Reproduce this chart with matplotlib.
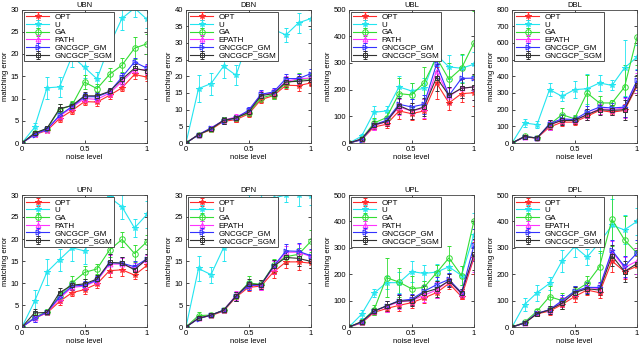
import matplotlib.pyplot as plt
import numpy as np

plt.rcParams['font.family'] = ['Liberation Sans', 'DejaVu Sans']

noise = [0, 0.1, 0.2, 0.3, 0.4, 0.5, 0.6, 0.7, 0.8, 0.9, 1.0]

# mean matching error per method (rows in legend order)
ubn_mean = [
    [0, 1.9, 2.8, 5.5, 7.3, 9.3, 9.2, 10.7, 12.4, 15.4, 14.8],
    [0, 3.5, 12.4, 12.6, 19.5, 17.0, 14.4, 22.0, 28.0, 30.3, 27.8],
    [0, 2.2, 3.2, 7.5, 8.5, 13.7, 12.2, 15.4, 17.5, 21.3, 22.3],
    [0, 2.0, 3.0, 6.0, 8.0, 10.0, 9.8, 11.2, 13.8, 16.5, 16.5],
    [0, 1.9, 3.1, 6.2, 8.2, 10.4, 10.4, 11.5, 14.8, 18.2, 16.8],
    [0, 2.2, 3.3, 7.7, 8.4, 10.6, 10.6, 11.6, 14.3, 16.8, 16.2],
]
ubn_err = [
    [0, .3, .4, .8, .8, .8, .8, .8, .8, 1.0, .8],
    [0, 1.0, 2.5, 2.3, 2.5, 2.5, 1.5, 2.5, 2.5, 2.0, 2.0],
    [0, .4, .4, 1.2, 1.0, 1.5, 1.0, 1.5, 1.5, 2.5, 2.3],
    [0, .3, .4, .8, .8, .8, .8, .8, 1.0, 1.2, 1.0],
    [0, .3, .4, .8, .8, .8, .8, .8, 1.0, 1.0, 1.0],
    [0, .3, .4, 1.0, .8, .8, .8, .8, 1.0, 1.0, 1.0],
]

dbn_mean = [
    [0, 2.5, 4.0, 6.5, 7.0, 8.7, 13.0, 14.2, 17.3, 17.2, 18.0],
    [0, 16.3, 17.8, 23.0, 20.3, 31.0, 33.0, 34.0, 32.4, 36.0, 37.3],
    [0, 2.5, 4.2, 6.8, 7.5, 9.0, 13.5, 14.5, 18.0, 19.0, 19.3],
    [0, 2.5, 4.5, 6.8, 7.8, 9.5, 14.5, 15.0, 18.5, 19.2, 19.5],
    [0, 2.5, 4.5, 6.7, 7.5, 9.8, 14.6, 15.3, 19.3, 19.3, 20.8],
    [0, 2.5, 4.2, 6.8, 7.5, 9.2, 14.2, 14.8, 18.3, 18.5, 18.8],
]
dbn_err = [
    [0, .3, .5, .8, .8, .8, 1.0, 1.0, 1.0, 1.5, 1.0],
    [0, 4.0, 3.3, 3.5, 3.0, 3.0, 3.0, 3.0, 2.0, 3.0, 3.0],
    [0, .3, .6, 1.0, 1.0, 1.0, 1.2, 1.2, 1.5, 2.0, 1.5],
    [0, .3, .6, 1.0, 1.0, 1.0, 1.2, 1.2, 1.5, 1.5, 1.5],
    [0, .3, .6, 1.0, 1.0, 1.0, 1.2, 1.2, 1.5, 1.5, 1.5],
    [0, .3, .6, 1.0, 1.0, 1.0, 1.2, 1.2, 1.5, 1.5, 1.5],
]

ubl_mean = [
    [0, 12, 60, 70, 120, 110, 120, 225, 150, 185, 188],
    [0, 25, 115, 120, 210, 195, 205, 330, 285, 280, 295],
    [0, 15, 75, 95, 185, 180, 225, 320, 238, 280, 375],
    [0, 15, 65, 80, 135, 120, 130, 270, 175, 205, 210],
    [0, 12, 68, 85, 145, 135, 145, 295, 178, 242, 243],
    [0, 15, 68, 80, 140, 120, 135, 245, 178, 205, 210],
]
ubl_err = [
    [0, 5, 10, 15, 30, 25, 30, 60, 25, 30, 50],
    [0, 10, 25, 20, 40, 30, 40, 40, 45, 50, 45],
    [0, 8, 20, 20, 60, 45, 60, 50, 60, 55, 120],
    [0, 5, 15, 15, 30, 30, 35, 50, 30, 35, 50],
    [0, 5, 15, 15, 30, 30, 35, 50, 30, 35, 50],
    [0, 5, 15, 15, 30, 30, 35, 50, 30, 35, 50],
]

dbl_mean = [
    [0, 35, 30, 95, 125, 125, 160, 195, 185, 195, 340],
    [0, 120, 110, 320, 280, 320, 325, 360, 345, 450, 515],
    [0, 40, 30, 110, 170, 145, 300, 240, 240, 335, 635],
    [0, 38, 30, 105, 140, 135, 170, 205, 200, 210, 360],
    [0, 38, 30, 115, 145, 140, 185, 215, 210, 215, 375],
    [0, 38, 30, 110, 135, 135, 170, 200, 195, 200, 350],
]
dbl_err = [
    [0, 8, 8, 20, 25, 20, 25, 20, 20, 40, 50],
    [0, 25, 20, 40, 30, 50, 90, 50, 30, 170, 70],
    [0, 8, 8, 30, 40, 20, 110, 40, 20, 130, 170],
    [0, 8, 8, 25, 30, 20, 35, 30, 30, 60, 60],
    [0, 8, 8, 25, 30, 20, 35, 30, 30, 60, 60],
    [0, 8, 8, 25, 30, 20, 35, 30, 30, 60, 60],
]

upn_mean = [
    [0, 2.0, 3.2, 5.8, 7.8, 8.5, 9.8, 12.8, 13.0, 11.8, 14.0],
    [0, 5.8, 12.5, 15.3, 18.0, 17.3, 22.0, 29.5, 27.3, 22.5, 25.6],
    [0, 2.2, 3.5, 7.0, 10.0, 12.4, 13.2, 17.5, 19.9, 16.7, 19.4],
    [0, 2.0, 3.3, 6.5, 9.0, 9.3, 10.5, 14.3, 14.3, 13.3, 15.2],
    [0, 2.0, 3.4, 6.8, 9.3, 9.5, 10.7, 14.6, 14.5, 13.7, 15.5],
    [0, 3.2, 3.3, 7.8, 9.5, 9.8, 10.9, 14.7, 14.5, 13.0, 15.5],
]
upn_err = [
    [0, .4, .4, .8, .8, 1.0, 1.0, 1.4, 1.4, 1.0, 1.0],
    [0, 2.5, 3.0, 2.5, 3.0, 3.0, 3.0, 3.0, 2.7, 2.0, 3.0],
    [0, .5, .5, 1.0, 1.5, 1.5, 1.2, 1.5, 1.8, 2.0, 1.6],
    [0, .8, .5, 1.0, 1.0, 1.0, 1.0, 2.0, 1.4, 1.2, 1.2],
    [0, .8, .5, 1.0, 1.0, 1.0, 1.0, 2.0, 1.4, 1.2, 1.2],
    [0, .8, .5, 1.0, 1.0, 1.0, 1.0, 2.0, 1.4, 1.2, 1.2],
]

dpn_mean = [
    [0, 2.0, 2.6, 3.6, 6.8, 9.0, 9.3, 12.5, 14.8, 14.8, 14.5],
    [0, 13.3, 11.9, 18.0, 24.0, 27.0, 29.0, 29.3, 30.0, 30.0, 29.8],
    [0, 2.6, 2.7, 3.8, 7.0, 10.0, 9.7, 14.0, 16.0, 16.5, 19.5],
    [0, 2.0, 2.7, 3.8, 7.2, 9.5, 9.5, 13.5, 17.0, 17.0, 16.0],
    [0, 1.9, 2.7, 3.8, 7.0, 9.4, 9.6, 13.8, 17.3, 17.2, 16.2],
    [0, 2.0, 2.7, 3.8, 7.0, 9.8, 9.6, 13.8, 15.8, 15.6, 14.9],
]
dpn_err = [
    [0, .3, .3, .4, .8, .8, .8, 1.3, 1.5, 1.8, 1.0],
    [0, 2.8, 1.8, 3.0, 3.0, 3.0, 3.0, 3.0, 1.5, 2.5, 2.0],
    [0, .7, .3, .4, 1.0, 1.5, 1.0, 1.5, 1.5, 1.5, 2.5],
    [0, .3, .3, .4, 1.0, 1.0, 1.0, 1.5, 1.5, 1.8, 1.5],
    [0, .3, .3, .4, 1.0, 1.0, 1.0, 1.5, 1.5, 1.8, 1.5],
    [0, .3, .3, .4, 1.0, 1.0, 1.0, 1.5, 1.5, 1.8, 1.5],
]

upl_mean = [
    [0, 15, 55, 70, 82, 92, 110, 130, 165, 115, 262],
    [0, 48, 128, 168, 168, 210, 203, 208, 228, 195, 350],
    [0, 20, 65, 187, 170, 145, 150, 205, 262, 195, 403],
    [0, 18, 60, 78, 95, 100, 120, 140, 175, 125, 270],
    [0, 18, 60, 80, 100, 105, 135, 160, 180, 130, 310],
    [0, 20, 60, 80, 98, 100, 130, 145, 175, 128, 275],
]
upl_err = [
    [0, 8, 10, 15, 20, 20, 20, 20, 20, 10, 60],
    [0, 15, 15, 25, 40, 40, 30, 30, 25, 35, 80],
    [0, 10, 20, 75, 55, 50, 25, 30, 45, 35, 100],
    [0, 8, 12, 20, 25, 20, 25, 30, 25, 15, 60],
    [0, 8, 12, 20, 25, 20, 25, 30, 25, 15, 60],
    [0, 8, 12, 20, 25, 20, 25, 30, 25, 15, 60],
]

dpl_mean = [
    [0, 15, 50, 60, 85, 115, 140, 130, 250, 210, 230],
    [0, 85, 130, 165, 250, 305, 265, 320, 385, 368, 400],
    [0, 18, 60, 115, 100, 135, 165, 228, 408, 330, 280],
    [0, 15, 52, 65, 95, 130, 150, 145, 285, 225, 250],
    [0, 15, 52, 65, 100, 135, 150, 150, 290, 230, 280],
    [0, 15, 50, 65, 90, 130, 145, 140, 270, 210, 240],
]
dpl_err = [
    [0, 5, 10, 15, 15, 20, 20, 20, 40, 30, 40],
    [0, 25, 30, 25, 40, 40, 30, 40, 100, 55, 50],
    [0, 5, 10, 40, 30, 20, 30, 60, 100, 90, 40],
    [0, 5, 10, 15, 20, 20, 20, 20, 40, 40, 50],
    [0, 5, 10, 15, 20, 20, 20, 20, 40, 40, 50],
    [0, 5, 10, 15, 20, 20, 20, 20, 40, 40, 50],
]

labels_path = ['OPT', 'U', 'GA', 'PATH', 'GNCGCP_GM', 'GNCGCP_SGM']
labels_epath = ['OPT', 'U', 'GA', 'EPATH', 'GNCGCP_GM', 'GNCGCP_SGM']

panels = [
    ('UBN', ubn_mean, ubn_err, 30, 5, labels_path),
    ('DBN', dbn_mean, dbn_err, 40, 5, labels_epath),
    ('UBL', ubl_mean, ubl_err, 500, 100, labels_path),
    ('DBL', dbl_mean, dbl_err, 800, 100, labels_epath),
    ('UPN', upn_mean, upn_err, 30, 5, labels_path),
    ('DPN', dpn_mean, dpn_err, 30, 5, labels_epath),
    ('UPL', upl_mean, upl_err, 500, 100, labels_path),
    ('DPL', dpl_mean, dpl_err, 500, 100, labels_epath),
]

colors = ['#ff2a2a', '#22e5f0', '#33dd33', '#ff33ff', '#3333ff', '#333333']
markers = ['*', '*', 'o', '^', '>', 's']
msizes = [4, 4, 4, 3.5, 3.5, 3]

fig = plt.figure(figsize=(6.4, 3.43), dpi=100)

lefts = [22, 186, 349, 512]
W, H = 640.0, 343.0
for i, (name, means, errs, ymax, ystep, labels) in enumerate(panels):
    row, col = divmod(i, 4)
    if row == 0:
        top, bot = 9.5, 143
    else:
        top, bot = 195, 327
    ax = fig.add_axes([lefts[col] / W, 1 - bot / H, 125 / W, (bot - top) / H])
    for k in range(6):
        ax.errorbar(noise, means[k], yerr=errs[k], color=colors[k], marker=markers[k],
                    markersize=msizes[k], markerfacecolor='none', markeredgewidth=0.7,
                    linewidth=0.8, elinewidth=0.6, capsize=1.5, capthick=0.6,
                    label=labels[k])
    ax.set_xlim(0, 1)
    ax.set_ylim(0, ymax)
    ax.set_xticks([0, 0.5, 1])
    ax.set_xticklabels(['0', '0.5', '1'])
    ax.set_yticks(np.arange(0, ymax + 1, ystep))
    ax.tick_params(direction='in', length=2, width=0.5, labelsize=5.5, pad=2,
                   top=True, right=True)
    for sp in ax.spines.values():
        sp.set_linewidth(0.6)
        sp.set_color('#444444')
    ax.set_title(name, fontsize=5.5, pad=2)
    ax.set_xlabel('noise level', fontsize=5.5, labelpad=1)
    ax.set_ylabel('matching error', fontsize=5.5, labelpad=1)
    leg = ax.legend(loc='upper left', fontsize=5.8, fancybox=False, framealpha=1,
                    edgecolor='#333333', borderaxespad=0.25, handlelength=2.9,
                    handletextpad=0.6, labelspacing=0.0, borderpad=0.25,
                    numpoints=1)
    leg.get_frame().set_linewidth(0.6)
    leg.set_zorder(10)

plt.savefig('out.png', dpi=100)
